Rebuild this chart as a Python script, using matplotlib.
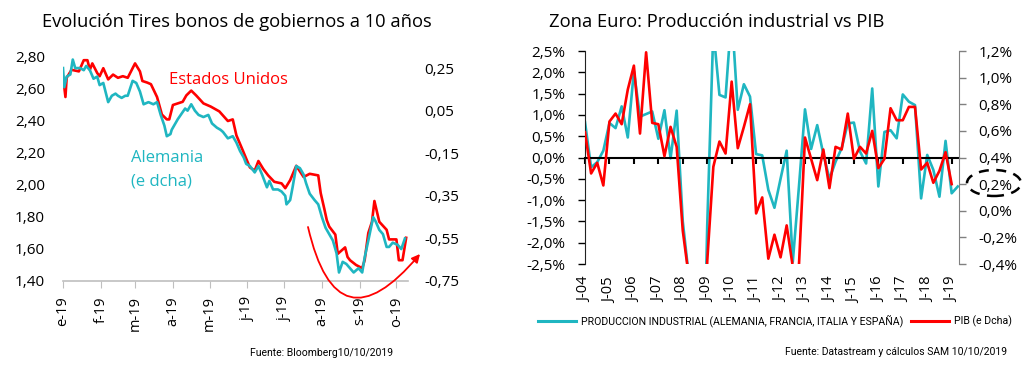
import numpy as np
import pandas as pd
import matplotlib
matplotlib.use("Agg")
from matplotlib import pyplot as plt
from matplotlib import transforms
from matplotlib.patches import Ellipse

plt.rcParams['font.family'] = ['Open Sans', 'DejaVu Sans']
NARROW = ['Roboto', 'DejaVu Sans']

# --- Tires a 10 años (días desde 1-ene-2019) ---
dias_us = [0, 2, 3, 7, 13, 17, 20, 22, 24, 28, 30, 33, 37, 41, 45, 49, 53, 59, 63, 65, 69, 72,
           77, 81, 85, 87, 90, 98, 101, 105, 109, 115, 121, 128, 135, 139, 142, 147, 153, 157,
           160, 164, 168, 173, 179, 182, 186, 191, 197, 202, 209, 211, 214, 216, 218, 223, 225,
           228, 231, 233, 235, 240, 245, 247, 250, 253, 255, 259, 265, 267, 273, 275, 278, 281]
tir_us = [2.68, 2.55, 2.67, 2.72, 2.71, 2.78, 2.78, 2.72, 2.76, 2.70, 2.68, 2.73, 2.66, 2.69,
          2.67, 2.68, 2.67, 2.76, 2.71, 2.65, 2.64, 2.63, 2.55, 2.44, 2.41, 2.41, 2.50, 2.52,
          2.56, 2.59, 2.56, 2.51, 2.49, 2.46, 2.40, 2.41, 2.31, 2.22, 2.11, 2.09, 2.15, 2.10,
          2.06, 2.02, 2.01, 1.98, 2.03, 2.12, 2.05, 2.07, 2.06, 1.95, 1.85, 1.78, 1.74, 1.69,
          1.57, 1.59, 1.61, 1.55, 1.53, 1.50, 1.48, 1.53, 1.70, 1.77, 1.90, 1.77, 1.72, 1.66,
          1.66, 1.53, 1.53, 1.67]

dias_de = [0, 1, 3, 6, 8, 10, 14, 17, 19, 22, 25, 28, 30, 33, 37, 40, 43, 45, 48, 51, 53, 57,
           60, 63, 66, 70, 74, 77, 80, 83, 85, 88, 89, 92, 94, 100, 102, 105, 108, 111, 115, 119,
           122, 126, 129, 131, 135, 139, 142, 145, 148, 150, 153, 157, 160, 163, 167, 169, 172,
           176, 179, 182, 183, 186, 188, 191, 194, 197, 199, 202, 206, 209, 212, 215, 218, 221,
           224, 226, 229, 232, 235, 238, 242, 245, 247, 250, 254, 256, 259, 262, 265, 267, 270,
           274, 277, 280]
tir_de = [0.25, 0.16, 0.21, 0.22, 0.29, 0.25, 0.25, 0.24, 0.26, 0.24, 0.20, 0.21, 0.17, 0.18,
          0.09, 0.12, 0.13, 0.12, 0.11, 0.12, 0.12, 0.19, 0.18, 0.14, 0.08, 0.09, 0.08, 0.09,
          0.03, -0.02, -0.07, -0.06, -0.04, -0.01, 0.01, 0.06, 0.05, 0.08, 0.05, 0.03, 0.02,
          0.03, -0.01, -0.03, -0.04, -0.05, -0.08, -0.07, -0.10, -0.14, -0.17, -0.20, -0.21,
          -0.24, -0.21, -0.25, -0.31, -0.28, -0.32, -0.32, -0.33, -0.35, -0.39, -0.37, -0.31,
          -0.21, -0.22, -0.25, -0.29, -0.34, -0.37, -0.39, -0.45, -0.50, -0.53, -0.56, -0.62,
          -0.71, -0.66, -0.67, -0.69, -0.71, -0.69, -0.71, -0.64, -0.56, -0.45, -0.47, -0.51,
          -0.53, -0.59, -0.59, -0.57, -0.58, -0.60, -0.55]

meses = ['e-19', 'f-19', 'm-19', 'a-19', 'm-19', 'j-19', 'j-19', 'a-19', 's-19', 'o-19']

# --- Zona Euro, trimestral desde 2004T1 ---
prod_ind = [0.83, -0.23, -0.11, 0.16, 0.81, 0.69, 1.2, 0.47, 2.03, 0.96, 1.02, 1.08, 0.44, 1.11, -0.02, 1.1,
            -1.5, -2.8, -5.0, -8.0, -1.6, 3.0, 1.47, 1.41, 3.4, 1.12, 1.72, 1.43, 0.08, 0.05, -0.76, -1.18,
            -0.5, 0.16, -2.45, -0.7, 1.13, 0.2, 0.76, 0.08, -0.5, -0.1, 0.22, 0.8, 0.82, 0.14, -0.14, 1.62,
            -0.68, 0.6, 0.64, 0.45, 1.48, 1.31, 1.23, -0.96, 0.06, -0.29, -0.92, 0.39, -0.84, -0.68]
pib = [0.59, 0.28, 0.36, 0.19, 0.67, 0.73, 0.65, 0.91, 1.09, 0.58, 1.19, 0.66, 0.65, 0.41, 0.63, 0.48,
       -0.15, -0.5, -1.8, -2.8, -0.38, 0.33, 0.52, 0.43, 0.97, 0.47, 0.63, 0.8, -0.02, 0.1, -0.36, -0.18,
       -0.35, -0.11, -0.42, -0.42, 0.55, 0.39, 0.23, 0.46, 0.17, 0.48, 0.46, 0.73, 0.39, 0.48, 0.43, 0.6,
       0.32, 0.39, 0.77, 0.68, 0.68, 0.78, 0.78, 0.31, 0.36, 0.21, 0.3, 0.44, 0.2]
anios = list(range(2004, 2020))

ROJO = '#FF0000'
CIAN = '#1FB6C1'

fig = plt.figure(figsize=(10.24, 3.68), dpi=100)

# ---------------- left chart ----------------
base = pd.Timestamp('2019-01-01')
f_us = base + pd.to_timedelta(dias_us, unit='D')
f_de = base + pd.to_timedelta(dias_de, unit='D')

ax1 = fig.add_axes([63 / 1024, 87 / 368, 345 / 1024, 224 / 368])
ax1.plot(f_us, tir_us, color=ROJO, lw=1.9)
ax1.set_ylim(1.40, 2.80)
ax1.set_xlim(base, base + pd.Timedelta(days=282.5))
yt = np.round(np.arange(1.40, 2.81, 0.20), 2)
ax1.set_yticks(yt, [f'{v:.2f}'.replace('.', ',') for v in yt])
ticks_m = pd.date_range('2019-01-01', periods=10, freq='MS')
ax1.set_xticks(ticks_m, meses)
ax1.tick_params(axis='y', length=0, pad=13, labelsize=11)
ax1.tick_params(axis='x', length=5, color='#BFBFBF', labelrotation=90, labelsize=10.5, pad=6)
for s in ['top', 'left', 'right']:
    ax1.spines[s].set_visible(False)
ax1.spines['bottom'].set_color('#BFBFBF')
ax1.spines['bottom'].set_linewidth(1.2)

ax1b = ax1.twinx()
ax1b.plot(f_de, tir_de, color=CIAN, lw=1.9)
ax1b.set_ylim(-0.75, 0.302)
yt2 = np.round(np.arange(-0.75, 0.26, 0.20), 2)
ax1b.set_yticks(yt2, [f'{v:.2f}'.replace('.', ',') for v in yt2])
ax1b.tick_params(axis='y', length=0, pad=12, labelsize=11)
for s in ['top', 'left', 'right', 'bottom']:
    ax1b.spines[s].set_visible(False)

fig.text(42 / 1024, 1 - 22 / 368, 'Evolución Tires bonos de gobiernos a 10 años', fontsize=13.2, va='center')
fig.text(228 / 1024, 1 - 80 / 368, 'Estados Unidos', color=ROJO, fontsize=12, ha='center', va='center')
fig.text(131 / 1024, 1 - 158 / 368, 'Alemania', color=CIAN, fontsize=12, va='center')
fig.text(131 / 1024, 1 - 181 / 368, '(e dcha)', color=CIAN, fontsize=12, va='center')
fig.text(393 / 1024, 1 - 353 / 368, 'Fuente: Bloomberg10/10/2019', fontsize=7.5, ha='right', va='center',
         family=NARROW)
ax1.annotate('', xy=(420, 368 - 254), xytext=(308, 368 - 227), xycoords='figure pixels',
             textcoords='figure pixels', annotation_clip=False,
             arrowprops=dict(arrowstyle='-|>', color=ROJO, lw=1.3, mutation_scale=12,
                             connectionstyle='arc3,rad=1.0', shrinkA=0, shrinkB=0))

# ---------------- right chart ----------------
x_q = 2004 + np.arange(len(prod_ind)) / 4
x_p = 2004 + np.arange(len(pib)) / 4

ax2 = fig.add_axes([585 / 1024, 104 / 368, 374 / 1024, 213 / 368])
ax2.plot(x_q, prod_ind, color=CIAN, lw=1.9)
ax2.set_ylim(-2.5, 2.5)
ax2.set_xlim(2004, 2019.3)
yt3 = np.arange(-2.5, 2.51, 0.5)
ax2.set_yticks(yt3, [f'{v:.1f}%'.replace('.', ',').replace('-0,0', '0,0') for v in yt3])
ax2.tick_params(axis='y', length=5, width=1, pad=9, labelsize=11)
ax2.spines['top'].set_visible(False)
ax2.spines['right'].set_visible(False)
ax2.spines['left'].set_color('#222222')
ax2.spines['bottom'].set_position(('data', 0))
ax2.spines['bottom'].set_linewidth(1.5)
ax2.set_xticks(anios, [''] * len(anios))
ax2.tick_params(axis='x', length=4, width=1.5)

# year labels below the plot area (axis line itself sits on zero)
trans = transforms.blended_transform_factory(ax2.transData, fig.transFigure)
for a in anios:
    ax2.text(a, 1 - 277 / 368, f'J-{a % 100:02d}', transform=trans, rotation=90,
             ha='center', va='top', fontsize=10.5, clip_on=False)

ax2b = ax2.twinx()
ax2b.plot(x_p, pib, color=ROJO, lw=1.9)
ax2b.set_ylim(-0.4, 1.2)
yt4 = np.round(np.arange(-0.4, 1.21, 0.2), 1)
ax2b.set_yticks(yt4, [f'{v:.1f}%'.replace('.', ',') for v in yt4])
ax2b.tick_params(axis='y', length=5, width=1, color='#808080', pad=9, labelsize=11)
for s in ['top', 'left', 'bottom']:
    ax2b.spines[s].set_visible(False)
ax2b.spines['right'].set_color('#808080')

fig.text(549 / 1024, 1 - 22 / 368, 'Zona Euro: Producción industrial vs PIB', fontsize=13.2, va='center')
fig.add_artist(Ellipse((994 / 1024, 1 - 183 / 368), 54 / 1024, 26 / 368, transform=fig.transFigure,
                       fill=False, ls=(0, (4, 3)), lw=1.8, ec='black'))

l1, = ax2.plot([], [], color=CIAN, lw=2.2)
l2, = ax2.plot([], [], color=ROJO, lw=2.2)
fig.legend([l1, l2], ['PRODUCCION INDUSTRIAL (ALEMANIA, FRANCIA, ITALIA Y ESPAÑA)', 'PIB (e Dcha)'],
           ncol=2, loc='center', bbox_to_anchor=(775 / 1024, 1 - 321 / 368), frameon=False,
           handlelength=3.6, columnspacing=0.8, handletextpad=0.4,
           prop={'family': NARROW, 'size': 7.6})
fig.text(1007 / 1024, 1 - 352 / 368, 'Fuente: Datastream y cálculos SAM 10/10/2019', fontsize=7.5,
         ha='right', va='center', family=NARROW)

fig.savefig('out.png', dpi=100)
